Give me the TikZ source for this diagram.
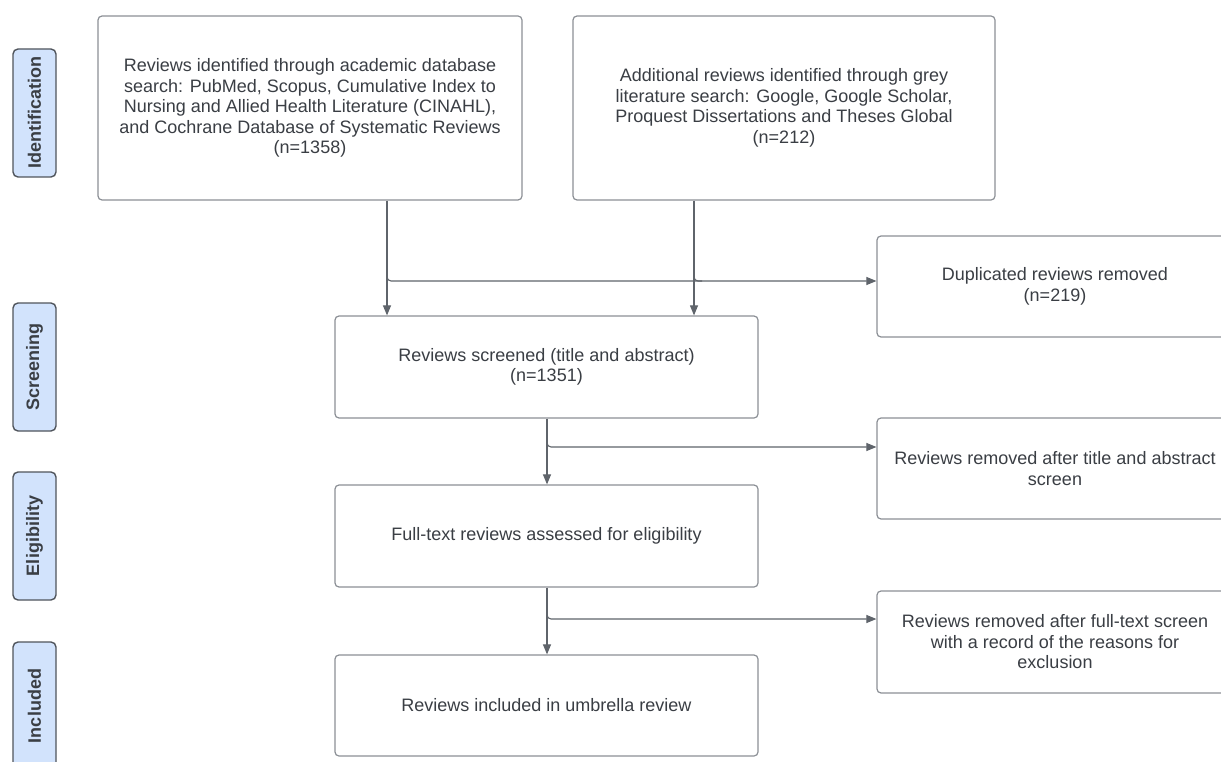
\documentclass[tikz,border=0pt]{standalone}
\usepackage{fontspec}
\setmainfont{Liberation Sans}
\usetikzlibrary{arrows.meta}
\definecolor{txt}{HTML}{3A3E44}
\definecolor{bord}{HTML}{8C9096}
\definecolor{conn}{HTML}{5F646B}
\definecolor{lab}{HTML}{D2E3FC}
\definecolor{labd}{HTML}{50555C}
\begin{document}
\begin{tikzpicture}[x=1pt,y=-1pt,
 box/.style={draw=bord, line width=1.2pt, rounded corners=4pt, fill=white, align=center, text=txt, font=\fontsize{18}{20.5}\selectfont, inner sep=0pt},
 lbl/.style={draw=labd, line width=1.4pt, rounded corners=5pt, fill=lab, text=txt, font=\fontsize{18}{21}\selectfont\bfseries, minimum width=128pt, minimum height=43pt, rotate=90, inner sep=0pt},
 arr/.style={draw=conn, line width=1.1pt, -{Triangle[length=10pt,width=8pt]}},
 ln/.style={draw=conn, line width=1.1pt}]
\useasboundingbox (0,0) rectangle (1221,762);
\clip (0,0) rectangle (1221,762);
\fill[white] (0,0) rectangle (1221,762);

% stage labels
\node[lbl] (lid) at (34.5,113) {Identification};
\node[lbl] (lsc) at (34.5,367) {Screening};
\node[lbl] (lel) at (34.5,536) {Eligibility};
\node[lbl] (lin) at (34.5,706) {Included};

% main boxes
\node[box, minimum width=424pt, minimum height=184pt] (A) at (310,108)
 {Reviews identified through academic database\\
  search: PubMed, Scopus, Cumulative Index to\\
  Nursing and Allied Health Literature (CINAHL),\\
  and Cochrane Database of Systematic Reviews\\
  (n=1358)};
\node[box, minimum width=422pt, minimum height=184pt] (B) at (784,108)
 {Additional reviews identified through grey\\
  literature search: Google, Google Scholar,\\
  Proquest Dissertations and Theses Global\\
  (n=212)};
\node[box, minimum width=423pt, minimum height=102pt] (scr) at (546.5,367)
 {Reviews screened (title and abstract)\\ (n=1351)};
\node[box, minimum width=423pt, minimum height=102pt] (ft) at (546.5,536)
 {Full-text reviews assessed for eligibility};
\node[box, minimum width=423pt, minimum height=101pt] (inc) at (546.5,705.5)
 {Reviews included in umbrella review};

% side boxes
\node[box, minimum width=356pt, minimum height=101pt] (dup) at (1055,286.5)
 {Duplicated reviews removed\\ (n=219)};
\node[box, minimum width=356pt, minimum height=101pt] (tar) at (1055,468.5)
 {Reviews removed after title and abstract\\ screen};
\node[box, minimum width=356pt, minimum height=102pt] (ftr) at (1055,642)
 {Reviews removed after full-text screen\\ with a record of the reasons for\\ exclusion};

% connectors
\coordinate (ja) at (387,281);
\coordinate (jb) at (694,281);
\coordinate (jc) at (547,447);
\coordinate (jd) at (547,619);
\draw[arr] (A.south -| ja) -- (scr.north -| ja);
\draw[arr] (B.south -| jb) -- (scr.north -| jb);
\draw[arr, rounded corners=4pt] ([yshift=8pt]ja) -- (ja) -- (dup.west |- ja);
\draw[ln, rounded corners=4pt] ([yshift=8pt]jb) -- (jb) -- ([xshift=8pt]jb);
\draw[arr] (scr.south -| jc) -- (ft.north -| jc);
\draw[arr, rounded corners=4pt] ([yshift=8pt]jc) -- (jc) -- (tar.west |- jc);
\draw[arr] (ft.south -| jd) -- (inc.north -| jd);
\draw[arr, rounded corners=4pt] ([yshift=8pt]jd) -- (jd) -- (ftr.west |- jd);
\end{tikzpicture}
\end{document}
